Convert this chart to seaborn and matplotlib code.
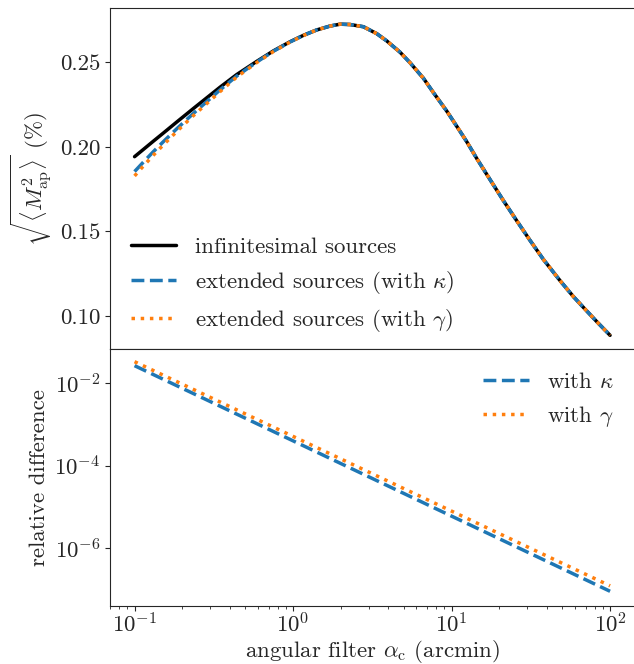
import numpy as np
import matplotlib
matplotlib.use("Agg")
import matplotlib.pyplot as plt
import seaborn as sns

# top panel: aperture-mass dispersion
alpha_c = [0.1, 0.1137, 0.1315, 0.152, 0.1845, 0.235, 0.2995, 0.346, 0.4411,
           0.59, 0.7515, 0.957, 1.162, 1.41, 1.712, 1.98, 2.289, 2.778, 3.373,
           3.90, 4.733, 5.47, 6.643, 7.67, 9.322, 10.78, 12.46, 14.4, 17.5,
           21.2, 25.77, 31.3, 37.96, 48.4, 58.7, 67.9, 82.4, 100.0]
m_point = [0.1942, 0.1985, 0.2034, 0.2082, 0.2147, 0.2227, 0.2306, 0.2353,
           0.2428, 0.2506, 0.2568, 0.2622, 0.2660, 0.2692, 0.2715, 0.2726,
           0.2724, 0.2711, 0.2670, 0.2627, 0.2560, 0.2498, 0.2406, 0.2322,
           0.2212, 0.2122, 0.2031, 0.1932, 0.1806, 0.1683, 0.1563, 0.1446,
           0.1334, 0.1208, 0.1114, 0.1050, 0.0966, 0.0885]
m_kappa = [0.1854, 0.1910, 0.1972, 0.2031, 0.2107, 0.2198, 0.2285, 0.2337,
           0.2419, 0.2502, 0.2566, 0.2621, 0.2660, 0.2692, 0.2715, 0.2726,
           0.2724, 0.2711, 0.2670, 0.2627, 0.2560, 0.2498, 0.2406, 0.2322,
           0.2212, 0.2122, 0.2031, 0.1932, 0.1806, 0.1683, 0.1563, 0.1446,
           0.1334, 0.1208, 0.1114, 0.1050, 0.0966, 0.0885]
m_gamma = [0.1828, 0.1887, 0.1951, 0.2012, 0.2091, 0.2185, 0.2274, 0.2327,
           0.2413, 0.2499, 0.2564, 0.2620, 0.2659, 0.2692, 0.2715, 0.2726,
           0.2724, 0.2711, 0.2670, 0.2627, 0.2560, 0.2498, 0.2406, 0.2322,
           0.2212, 0.2122, 0.2031, 0.1932, 0.1806, 0.1683, 0.1563, 0.1446,
           0.1334, 0.1208, 0.1114, 0.1050, 0.0966, 0.0885]

# bottom panel: relative difference
alpha_rel = [0.1, 1.0, 10.0, 100.0]
rel_kappa = [2.65e-2, 4.0e-4, 6.0e-6, 9.06e-8]
rel_gamma = [3.31e-2, 5.13e-4, 7.94e-6, 1.23e-7]

sns.set_style("ticks")
plt.rcParams['font.family'] = 'serif'
plt.rcParams['font.serif'] = ['cmr10', 'DejaVu Serif']
plt.rcParams['mathtext.fontset'] = 'cm'
plt.rcParams['axes.formatter.use_mathtext'] = True
plt.rcParams['font.size'] = 16.5
plt.rcParams['axes.unicode_minus'] = False
plt.rcParams['xtick.major.size'] = 3.5
plt.rcParams['ytick.major.size'] = 3.5
plt.rcParams['xtick.minor.size'] = 2
plt.rcParams['ytick.minor.size'] = 2
plt.rcParams['xtick.major.pad'] = 1.0
plt.rcParams['xtick.minor.pad'] = 1.0

blue = '#1f77b4'
orange = '#ff7f0e'
lw = 2.5

fig = plt.figure(figsize=(6.34, 6.64), dpi=100)
ax1 = fig.add_axes([0.1735, 0.4744, 0.8275, 0.5131])
ax2 = fig.add_axes([0.1735, 0.0873, 0.8275, 0.3871], sharex=ax1)

sns.lineplot(x=alpha_c, y=m_point, ax=ax1, color='black', lw=lw,
             label='infinitesimal sources')
sns.lineplot(x=alpha_c, y=m_kappa, ax=ax1, color=blue, lw=lw, linestyle='--',
             label=r'extended sources (with $\kappa$)')
sns.lineplot(x=alpha_c, y=m_gamma, ax=ax1, color=orange, lw=lw, linestyle=':',
             label=r'extended sources (with $\gamma$)')

sns.lineplot(x=alpha_rel, y=rel_kappa, ax=ax2, color=blue, lw=lw,
             linestyle='--', label=r'with $\kappa$')
sns.lineplot(x=alpha_rel, y=rel_gamma, ax=ax2, color=orange, lw=lw,
             linestyle=':', label=r'with $\gamma$')

ax1.set_xscale('log')
ax2.set_yscale('log')
ax1.set_xlim(10**-1.155, 10**2.155)
ax1.set_ylim(0.0804, 0.2820)
ax2.set_ylim(10**-7.40, 10**-1.173)
ax1.set_yticks([0.10, 0.15, 0.20, 0.25])
ax1.set_yticklabels(['0.10', '0.15', '0.20', '0.25'])
ax2.set_yticks([1e-6, 1e-4, 1e-2])
ax2.yaxis.set_minor_locator(matplotlib.ticker.NullLocator())
ax1.tick_params(labelbottom=False)

ax1.set_ylabel(r'$\sqrt{\langle M_{\mathrm{ap}}^2\rangle}$ (%)')
ax1.set_xlabel('')
ax2.set_ylabel('relative difference')
ax2.set_xlabel(r'angular filter $\alpha_{\mathrm{c}}$ (arcmin)', labelpad=1)

ax1.legend(loc='lower left', frameon=False, bbox_to_anchor=(0, -0.017))
ax2.legend(loc='upper right', frameon=False, bbox_to_anchor=(1, 0.99))

fig.savefig('out.png', dpi=100)
